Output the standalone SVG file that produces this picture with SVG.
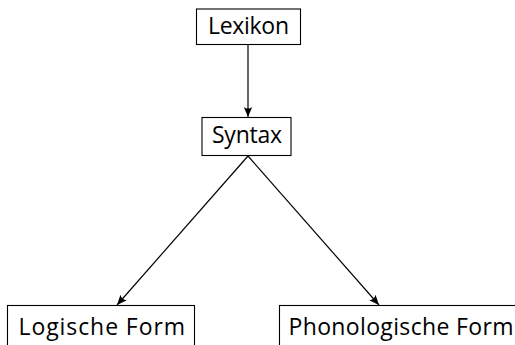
<svg xmlns="http://www.w3.org/2000/svg" width="515" height="345" viewBox="0 0 515 345">
  <style>
    .box { fill: #fff; stroke: #000; stroke-width: 1.1; }
    .lbl { font-family: "Open Sans", "Noto Sans", sans-serif; font-size: 23px; fill: #000; }
    .edge { stroke: #000; stroke-width: 1.2; fill: none; marker-end: url(#arr); }
  </style>
  <defs>
    <marker id="arr" markerUnits="userSpaceOnUse" markerWidth="14" markerHeight="12" viewBox="-11 -6 12 12" refX="0" refY="0" orient="auto">
      <path d="M0,0 L-10,-4.2 Q-7,0 -10,4.2 Z" fill="#000"/>
    </marker>
  </defs>
  <rect width="515" height="345" fill="#fff"/>
  <g id="connectors">
    <line class="edge" x1="248" y1="44.5" x2="248" y2="117"/>
    <line class="edge" x1="248" y1="156" x2="117" y2="305"/>
    <line class="edge" x1="248" y1="156" x2="379" y2="305"/>
  </g>
  <g id="lexikon">
    <rect class="box" x="196.5" y="9" width="104" height="35.5"/>
    <text class="lbl" x="208" y="34" textLength="81" lengthAdjust="spacing">Lexikon</text>
  </g>
  <g id="syntax">
    <rect class="box" x="202" y="117.5" width="89" height="38"/>
    <text class="lbl" x="212" y="143" textLength="70" lengthAdjust="spacing">Syntax</text>
  </g>
  <g id="logische-form">
    <rect class="box" x="7.5" y="305.5" width="187" height="50"/>
    <text class="lbl" x="18.5" y="335" textLength="166.5" lengthAdjust="spacing">Logische Form</text>
  </g>
  <g id="phonologische-form">
    <rect class="box" x="279.5" y="305.5" width="250" height="50"/>
    <text class="lbl" x="288.5" y="335" textLength="225" lengthAdjust="spacing">Phonologische Form</text>
  </g>
</svg>
